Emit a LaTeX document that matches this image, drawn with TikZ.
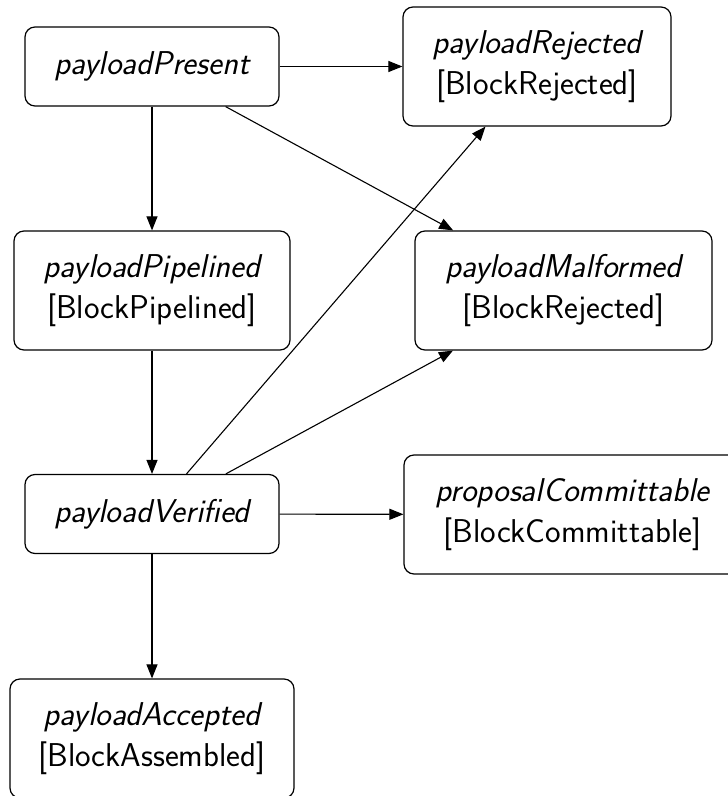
\documentclass[tikz,border=0pt]{standalone}
\usetikzlibrary{arrows.meta}

\tikzset{
  state/.style={draw, rounded corners=5pt, line width=0.6pt, align=center,
    inner sep=1pt, font=\sffamily\fontsize{16.5}{20.5}\selectfont},
  edge/.style={line width=0.55pt, -{Triangle[length=7pt,width=5.5pt]}}
}

\begin{document}
\begin{tikzpicture}[x=0.5pt, y=-0.5pt]
  \useasboundingbox (0,0) rectangle (727,796);

  % states of the payload
  \node[state, minimum width=127pt, minimum height=39.5pt] (present) at (152,66.5)
    {\itshape payloadPresent};
  \node[state, minimum width=134pt, minimum height=59.5pt] (rejected) at (537,66.5)
    {{\itshape payloadRejected}\\{[}BlockRejected{]}};
  \node[state, minimum width=138pt, minimum height=59.5pt] (pipelined) at (152,290.5)
    {{\itshape payloadPipelined}\\{[}BlockPipelined{]}};
  \node[state, minimum width=148.5pt, minimum height=59.5pt] (malformed) at (563.5,290.5)
    {{\itshape payloadMalformed}\\{[}BlockRejected{]}};
  \node[state, minimum width=127pt, minimum height=39.5pt] (verified) at (152,514)
    {\itshape payloadVerified};
  \node[state, minimum width=168.5pt, minimum height=59.5pt] (committable) at (572.5,514.5)
    {{\itshape proposalCommittable}\\{[}BlockCommittable{]}};
  \node[state, minimum width=142pt, minimum height=59.5pt] (accepted) at (152,738.5)
    {{\itshape payloadAccepted}\\{[}BlockAssembled{]}};

  % transitions
  \draw[edge] (present) -- (rejected);
  \draw[edge] (present) -- (pipelined);
  \draw[edge] (present) -- (malformed);
  \draw[edge] (pipelined) -- (verified);
  \draw[edge] (verified) -- (rejected);
  \draw[edge] (verified) -- (malformed);
  \draw[edge] (verified) -- (committable);
  \draw[edge] (verified) -- (accepted);
\end{tikzpicture}
\end{document}
